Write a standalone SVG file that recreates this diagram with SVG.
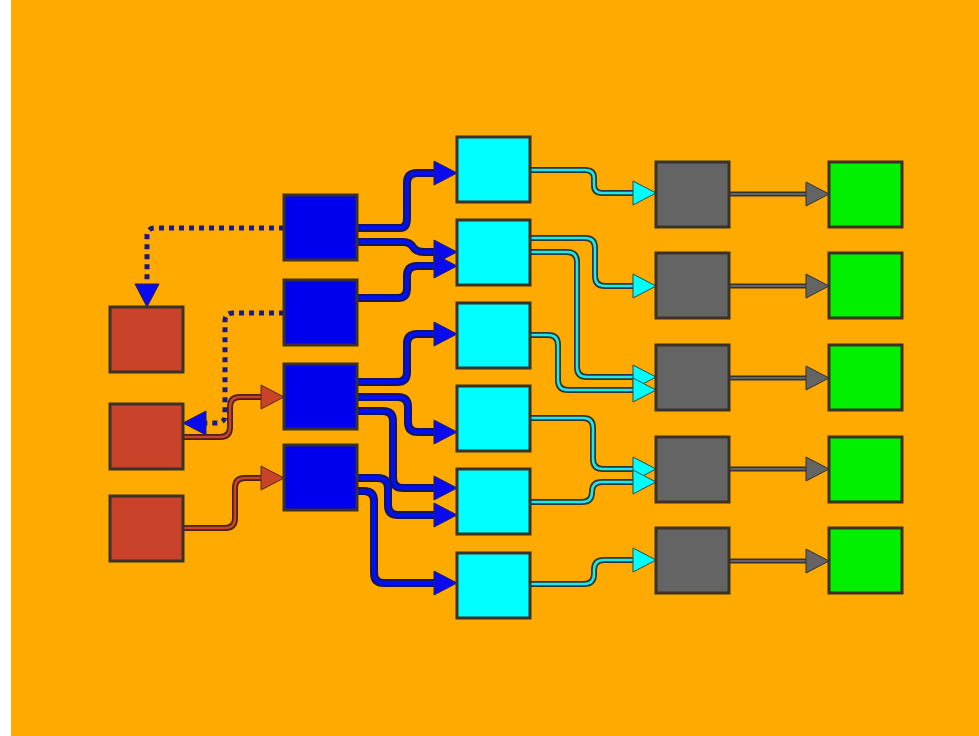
<svg xmlns="http://www.w3.org/2000/svg" xmlns:xlink="http://www.w3.org/1999/xlink" width="979" height="736" viewBox="0 0 979 736">
<style>
.n{stroke:#3a3226;stroke-width:3}
.red{fill:#c8432a}.blue{fill:#0000ee}.cyan{fill:#00ffff}.gray{fill:#646464}.green{fill:#00f000}
.o{fill:none;stroke:#262650;stroke-linejoin:round}
.ob{stroke-width:8;stroke:#151560}.oc{stroke-width:6;stroke:#2a3a38}.or{stroke-width:6;stroke:#4a2018}.og{stroke-width:5;stroke:#333}
.ib{fill:none;stroke:#0010ee;stroke-width:4;marker-end:url(#mb)}
.ic{fill:none;stroke:#20e8e8;stroke-width:2.5;marker-end:url(#mc)}
.ir{fill:none;stroke:#c8432a;stroke-width:2.5;marker-end:url(#mr)}
.ig{fill:none;stroke:#646464;stroke-width:2;marker-end:url(#mg)}
.dot{fill:none;stroke:#1a1a80;stroke-width:5;stroke-dasharray:5 5;marker-end:url(#mb)}
</style>
<defs>
<marker id="mb" markerUnits="userSpaceOnUse" overflow="visible" orient="auto" refX="0" refY="0" markerWidth="1" markerHeight="1"><polygon points="0,-12 23,0 0,12" fill="#0a0aee" stroke="#222260" stroke-width="1"/></marker>
<marker id="mc" markerUnits="userSpaceOnUse" overflow="visible" orient="auto" refX="0" refY="0" markerWidth="1" markerHeight="1"><polygon points="0,-12 23,0 0,12" fill="#00ffff" stroke="#2a4a48" stroke-width="1"/></marker>
<marker id="mr" markerUnits="userSpaceOnUse" overflow="visible" orient="auto" refX="0" refY="0" markerWidth="1" markerHeight="1"><polygon points="0,-12 23,0 0,12" fill="#c8432a" stroke="#5a2a18" stroke-width="1"/></marker>
<marker id="mg" markerUnits="userSpaceOnUse" overflow="visible" orient="auto" refX="0" refY="0" markerWidth="1" markerHeight="1"><polygon points="0,-12 23,0 0,12" fill="#646464" stroke="#333" stroke-width="1"/></marker>
<path id="b1" d="M357,228 H400 Q407,228 407,218 V183 Q407,173 417,173 H434"/>
<path id="b2" d="M357,242 H403 Q410,242 413,247 Q416,252 424,252 H434"/>
<path id="b3" d="M357,298 H398 Q407,298 407,288 V276 Q407,266 417,266 H434"/>
<path id="b4" d="M357,382 H397 Q407,382 407,372 V344 Q407,334 417,334 H434"/>
<path id="b5" d="M357,397 H398 Q408,397 408,407 V422 Q408,432 418,432 H434"/>
<path id="b6" d="M357,411 H383 Q393,411 393,421 V478 Q393,488 403,488 H434"/>
<path id="b7" d="M357,478 H378 Q388,478 388,488 V505 Q388,515 398,515 H434"/>
<path id="b8" d="M357,491 H364 Q374,491 374,501 V573 Q374,583 384,583 H434"/>
<path id="r1" d="M183,437 H220 Q230,437 230,427 V407 Q230,397 240,397 H261"/>
<path id="r2" d="M183,528 H225 Q235,528 235,518 V488 Q235,478 245,478 H261"/>
<path id="c1" d="M530,170 H585 Q594,170 594,178 V185 Q594,193 602,193 H633"/>
<path id="c2" d="M530,238 H585 Q595,238 595,248 V276 Q595,286 605,286 H633"/>
<path id="c3" d="M530,252 H567 Q577,252 577,262 V367 Q577,377 587,377 H633"/>
<path id="c4" d="M530,335 H548 Q558,335 558,345 V380 Q558,390 568,390 H633"/>
<path id="c5" d="M530,418 H583 Q593,418 593,428 V459 Q593,469 603,469 H633"/>
<path id="c6" d="M530,502 H582 Q592,502 592,492 Q592,482 602,482 H633"/>
<path id="c7" d="M530,584 H584 Q594,584 594,574 V570 Q594,560 604,560 H633"/>
<path id="g1" d="M730,194 H806"/>
<path id="g2" d="M730,286 H806"/>
<path id="g3" d="M730,378 H806"/>
<path id="g4" d="M730,469 H806"/>
<path id="g5" d="M730,561 H806"/>
</defs>
<rect x="0" y="0" width="979" height="736" fill="#ffffff"/>
<rect x="11" y="0" width="968" height="736" fill="#ffaa00"/>
<g id="connectors">
<path class="dot" d="M284,228 H155 Q147,228 147,236 V284"/>
<path class="dot" d="M284,313 H233 Q225,313 225,321 V415 Q225,423 217,423 H206"/>
<use xlink:href="#b1" class="o ob"/><use xlink:href="#b1" class="ib"/>
<use xlink:href="#b2" class="o ob"/><use xlink:href="#b2" class="ib"/>
<use xlink:href="#b3" class="o ob"/><use xlink:href="#b3" class="ib"/>
<use xlink:href="#b4" class="o ob"/><use xlink:href="#b4" class="ib"/>
<use xlink:href="#b5" class="o ob"/><use xlink:href="#b5" class="ib"/>
<use xlink:href="#b6" class="o ob"/><use xlink:href="#b6" class="ib"/>
<use xlink:href="#b7" class="o ob"/><use xlink:href="#b7" class="ib"/>
<use xlink:href="#b8" class="o ob"/><use xlink:href="#b8" class="ib"/>
<use xlink:href="#r1" class="o or"/><use xlink:href="#r1" class="ir"/>
<use xlink:href="#r2" class="o or"/><use xlink:href="#r2" class="ir"/>
<use xlink:href="#c1" class="o oc"/><use xlink:href="#c1" class="ic"/>
<use xlink:href="#c2" class="o oc"/><use xlink:href="#c2" class="ic"/>
<use xlink:href="#c3" class="o oc"/><use xlink:href="#c3" class="ic"/>
<use xlink:href="#c4" class="o oc"/><use xlink:href="#c4" class="ic"/>
<use xlink:href="#c5" class="o oc"/><use xlink:href="#c5" class="ic"/>
<use xlink:href="#c6" class="o oc"/><use xlink:href="#c6" class="ic"/>
<use xlink:href="#c7" class="o oc"/><use xlink:href="#c7" class="ic"/>
<use xlink:href="#g1" class="o og"/><use xlink:href="#g1" class="ig"/>
<use xlink:href="#g2" class="o og"/><use xlink:href="#g2" class="ig"/>
<use xlink:href="#g3" class="o og"/><use xlink:href="#g3" class="ig"/>
<use xlink:href="#g4" class="o og"/><use xlink:href="#g4" class="ig"/>
<use xlink:href="#g5" class="o og"/><use xlink:href="#g5" class="ig"/>
</g>
<g id="red1"><rect class="n red" x="110" y="307" width="73" height="65"/></g>
<g id="red2"><rect class="n red" x="110" y="404" width="73" height="65"/></g>
<g id="red3"><rect class="n red" x="110" y="496" width="73" height="65"/></g>
<g id="blue1"><rect class="n blue" x="284" y="195" width="73" height="65"/></g>
<g id="blue2"><rect class="n blue" x="284" y="280" width="73" height="65"/></g>
<g id="blue3"><rect class="n blue" x="284" y="364" width="73" height="65"/></g>
<g id="blue4"><rect class="n blue" x="284" y="445" width="73" height="65"/></g>
<g id="cyan1"><rect class="n cyan" x="457" y="137" width="73" height="65"/></g>
<g id="cyan2"><rect class="n cyan" x="457" y="220" width="73" height="65"/></g>
<g id="cyan3"><rect class="n cyan" x="457" y="303" width="73" height="65"/></g>
<g id="cyan4"><rect class="n cyan" x="457" y="386" width="73" height="65"/></g>
<g id="cyan5"><rect class="n cyan" x="457" y="469" width="73" height="65"/></g>
<g id="cyan6"><rect class="n cyan" x="457" y="553" width="73" height="65"/></g>
<g id="gray1"><rect class="n gray" x="656" y="162" width="73" height="65"/></g>
<g id="gray2"><rect class="n gray" x="656" y="253" width="73" height="65"/></g>
<g id="gray3"><rect class="n gray" x="656" y="345" width="73" height="65"/></g>
<g id="gray4"><rect class="n gray" x="656" y="437" width="73" height="65"/></g>
<g id="gray5"><rect class="n gray" x="656" y="528" width="73" height="65"/></g>
<g id="green1"><rect class="n green" x="829" y="162" width="73" height="65"/></g>
<g id="green2"><rect class="n green" x="829" y="253" width="73" height="65"/></g>
<g id="green3"><rect class="n green" x="829" y="345" width="73" height="65"/></g>
<g id="green4"><rect class="n green" x="829" y="437" width="73" height="65"/></g>
<g id="green5"><rect class="n green" x="829" y="528" width="73" height="65"/></g>
</svg>
